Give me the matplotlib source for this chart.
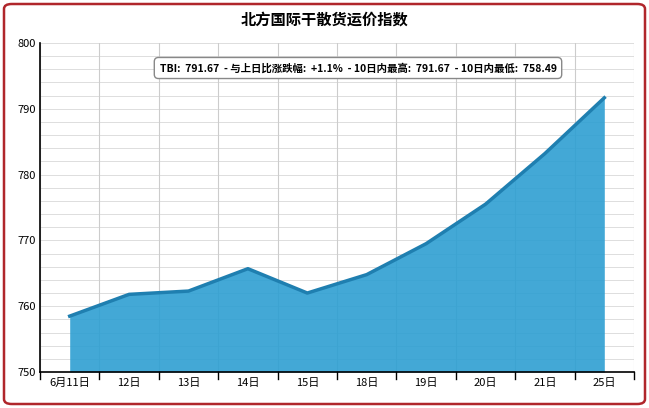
import matplotlib
matplotlib.use("Agg")
import matplotlib.pyplot as plt
from matplotlib.patches import FancyBboxPatch
import numpy as np

plt.rcParams['font.family'] = ['Noto Sans CJK SC', 'DejaVu Sans']

categories = ["6月11日", "12日", "13日", "14日", "15日", "18日", "19日", "20日", "21日", "25日"]
values = [758.49, 761.8, 762.3, 765.7, 762.0, 764.8, 769.5, 775.5, 783.2, 791.67]
title = "北方国际干散货运价指数"
info = "TBI:  791.67  - 与上日比涨跌幅:  +1.1%  - 10日内最高:  791.67  - 10日内最低:  758.49"

W, H = 649, 408
fig = plt.figure(figsize=(W/100, H/100), dpi=100)
fig.patches.append(FancyBboxPatch((4/W, 4/H), 1-8/W, 1-8/H, boxstyle="round,pad=0,rounding_size=0.012",
                                  transform=fig.transFigure, fc="white", ec="#b0262b", lw=1.8, zorder=-1))
ax = fig.add_axes([40/W, 1-372/H, 594/W, 329/H])
x = np.arange(len(categories))
ax.fill_between(x, values, 750, color="#2e9fd2", alpha=0.9, lw=0, zorder=2)
ax.plot(x, values, color="#1f7fb0", lw=2.5, zorder=3)
ax.set_xlim(-0.5, len(categories)-0.5)
ax.set_ylim(750, 800)
ax.set_yticks(np.arange(750, 801, 10))
ax.set_yticks(np.arange(750, 801, 2), minor=True)
ax.set_xticks(x)
ax.set_xticklabels(categories, fontsize=8)
ax.tick_params(axis='y', labelsize=8, length=0, pad=3)
ax.tick_params(axis='y', which='minor', length=0)
ax.tick_params(axis='x', length=0, pad=4)
for b in np.arange(-0.5, len(categories)):
    ax.axvline(b, color="#cccccc", lw=0.8, zorder=1)
    ax.plot([b, b], [0, -0.02], transform=ax.get_xaxis_transform(), color="black", lw=1, clip_on=False)
ax.grid(axis='y', which='both', color="#dddddd", lw=0.7, zorder=1)
ax.set_axisbelow(True)
for s in ['top', 'right']:
    ax.spines[s].set_visible(False)
ax.spines['left'].set_color('black')
ax.spines['bottom'].set_color('black')
ax.spines['left'].set_linewidth(1.2)
ax.spines['bottom'].set_linewidth(1.2)
fig.text(0.5, 1-20/H, title, ha='center', va='center', fontsize=11, fontweight='bold')
fig.text(358/W, 1-68/H, info, ha='center', va='center', fontsize=7.5, fontweight='bold',
         bbox=dict(boxstyle="round,pad=0.5,rounding_size=0.4", fc="white", ec="#888888", lw=1))
fig.savefig("out.png", dpi=100)
